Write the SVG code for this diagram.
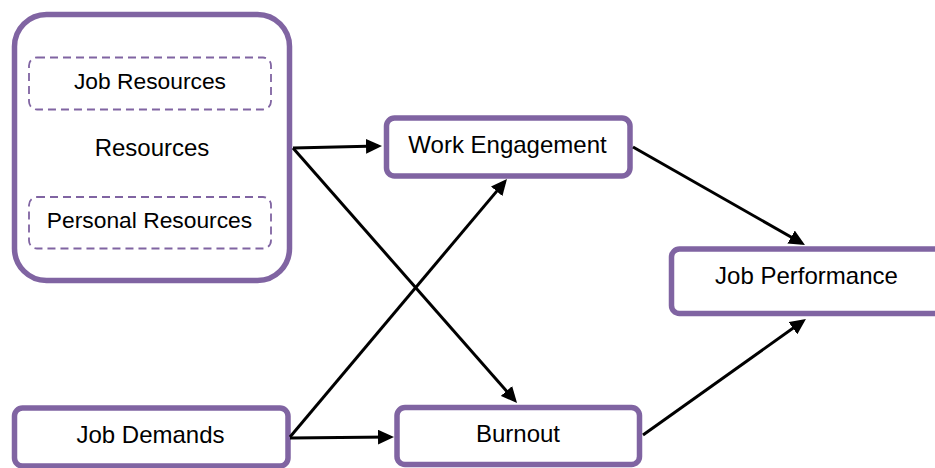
<svg xmlns="http://www.w3.org/2000/svg" width="935" height="468" viewBox="0 0 935 468">
<defs>
<style>
.box{fill:#ffffff;stroke:#8064a2;stroke-width:5.5}
.dash{fill:none;stroke:#8064a2;stroke-width:1.8;stroke-dasharray:8 5}
.t{font-family:"Liberation Sans",Arial,sans-serif;font-size:24px;fill:#000;text-anchor:middle}
.ts{font-family:"Liberation Sans",Arial,sans-serif;font-size:22.8px;fill:#000;text-anchor:middle}
.c{fill:none;stroke:#000;stroke-width:3;marker-end:url(#ah)}
</style>
<marker id="ah" markerUnits="userSpaceOnUse" markerWidth="17" markerHeight="15" refX="12" refY="7.5" orient="auto">
<path d="M0,0 L16,7.5 L0,15 Z" fill="#000"/>
</marker>
</defs>
<g id="resources">
<rect class="box" x="14.5" y="14.5" width="275" height="266" rx="32"/>
<rect class="dash" x="29" y="57.5" width="242" height="52" rx="8"/>
<text class="ts" x="150" y="89">Job Resources</text>
<text class="t" x="152" y="156">Resources</text>
<rect class="dash" x="29" y="197" width="242" height="51.5" rx="8"/>
<text class="ts" x="149.5" y="227.5">Personal Resources</text>
</g>
<g id="work-engagement">
<rect class="box" x="386.5" y="118" width="243.5" height="58" rx="8"/>
<text class="t" x="507.5" y="153">Work Engagement</text>
</g>
<g id="job-performance">
<rect class="box" x="671.5" y="249" width="271" height="64.5" rx="8"/>
<text class="t" x="806.5" y="284">Job Performance</text>
</g>
<g id="job-demands">
<rect class="box" x="14.5" y="408" width="273.5" height="58" rx="8"/>
<text class="t" x="150.5" y="443">Job Demands</text>
</g>
<g id="burnout">
<rect class="box" x="397" y="407.5" width="242.5" height="57" rx="8"/>
<text class="t" x="518" y="442">Burnout</text>
</g>
<g id="connectors">
<line class="c" x1="293" y1="148" x2="378" y2="146.1"/>
<line class="c" x1="293" y1="148" x2="514.4" y2="400"/>
<line class="c" x1="290" y1="437" x2="504.4" y2="182.1"/>
<line class="c" x1="290" y1="438" x2="390" y2="437"/>
<line class="c" x1="633" y1="147" x2="801.5" y2="243"/>
<line class="c" x1="643" y1="435" x2="802.7" y2="321.3"/>
</g>
</svg>
